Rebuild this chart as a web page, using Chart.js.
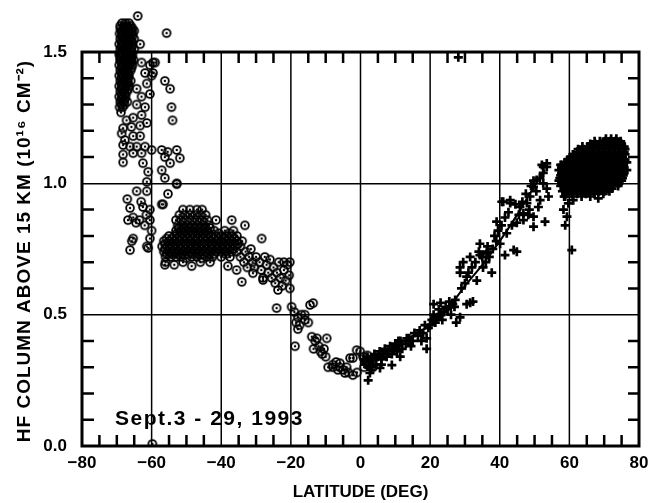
<!DOCTYPE html>
<html>
<head>
<meta charset="utf-8">
<script src="https://cdn.jsdelivr.net/npm/chart.js@4.4.1/dist/chart.umd.min.js"></script>
<style>
  html, body { margin: 0; padding: 0; background: #fff; }
  #wrap { width: 652px; height: 503px; }
</style>
</head>
<body>
<div id="wrap"><canvas id="chart" width="652" height="503"></canvas></div>
<script>
// [latitude, HF column]
const southPolar = [
  [-68.5,1.61],[-67.5,1.61],[-66.5,1.61],
  [-69,1.59],[-68,1.59],[-67,1.59],[-66,1.59],[-65.5,1.59],
  [-69.2,1.57],[-68.5,1.57],[-67.5,1.57],[-66.5,1.57],[-65.5,1.57],
  [-69,1.55],[-68,1.55],[-67,1.55],[-66,1.55],[-65,1.55],
  [-69.3,1.53],[-68.5,1.53],[-67.5,1.53],[-66.5,1.53],[-65.5,1.53],
  [-69,1.51],[-68,1.51],[-67,1.51],[-66,1.51],[-65,1.51],
  [-69.3,1.49],[-68.5,1.49],[-67.5,1.49],[-66.5,1.49],[-65.5,1.49],
  [-69,1.47],[-68,1.47],[-67,1.47],[-66,1.47],[-65.2,1.47],
  [-69.3,1.45],[-68.5,1.45],[-67.5,1.45],[-66.5,1.45],[-65.5,1.45],
  [-69,1.43],[-68,1.43],[-67,1.43],[-66,1.43],
  [-69.3,1.41],[-68.5,1.41],[-67.5,1.41],[-66.5,1.41],
  [-69,1.39],[-68,1.39],[-67,1.39],[-66,1.39],
  [-69.3,1.37],[-68.5,1.37],[-67.5,1.37],[-66.5,1.37],
  [-69,1.35],[-68,1.35],[-67,1.35],
  [-69.3,1.33],[-68.5,1.33],[-67.5,1.33],
  [-69,1.31],[-68,1.31],[-67,1.31],
  [-69.2,1.29],[-68.3,1.29],[-68.8,1.27],
  [-64,1.637],[-55.7,1.572],
  [-63.3,1.53],[-62.9,1.46],[-60.5,1.45],[-59.6,1.46],[-61.9,1.42],[-60,1.41],
  [-61.4,1.38],[-64.3,1.36],[-60.5,1.34],[-62.9,1.33],[-64.3,1.30],[-61.9,1.29],
  [-62.9,1.26],[-65.3,1.25],[-67.2,1.24],[-68.2,1.21],[-65.8,1.215],[-63.3,1.22],
  [-61.4,1.23],[-68.6,1.19],[-65.3,1.18],[-63.3,1.18],[-68.2,1.146],[-64.3,1.14],
  [-61.9,1.14],[-60,1.127],[-68.2,1.11],[-65.3,1.115],[-62.9,1.115],[-68.2,1.08],
  [-62.5,1.077],[-61,1.044],[-61.4,1.006],[-66.2,1.14],[-67.7,1.165],
  [-56.2,1.39],[-54.7,1.36],[-54.3,1.29],[-54,1.24],[-59,1.46],[-59.6,1.42],
  [-57.1,1.127],[-55.4,1.12],[-52.8,1.127],[-51.9,1.096],[-54.7,1.077],[-56.2,1.10],
  [-57.1,1.05],[-56.2,1.02],[-52.8,1.0]
];
const southPolarCore = [
  [-69,1.60],[-68,1.60],[-67,1.60],[-66,1.60],
  [-68.7,1.58],[-67.7,1.58],[-66.7,1.58],[-65.7,1.58],[-65,1.58],
  [-68.6,1.56],[-67.5,1.56],[-66.5,1.56],[-65.5,1.56],
  [-68.7,1.54],[-67.7,1.54],[-66.7,1.54],[-65.7,1.54],
  [-68.7,1.52],[-67.7,1.52],[-66.7,1.52],[-65.7,1.52],
  [-68.7,1.50],[-67.7,1.50],[-66.7,1.50],[-65.7,1.50],
  [-68.7,1.48],[-67.7,1.48],[-66.7,1.48],[-65.7,1.48],
  [-68.7,1.46],[-67.7,1.46],[-66.7,1.46],[-65.7,1.46],
  [-68.7,1.44],[-67.7,1.44],[-66.7,1.44],[-65.8,1.44],
  [-68.7,1.42],[-67.7,1.42],[-66.7,1.42],
  [-68.7,1.40],[-67.7,1.40],[-66.7,1.40],
  [-68.7,1.38],[-67.7,1.38],[-66.7,1.38],
  [-68.7,1.36],[-67.7,1.36],[-66.7,1.36],
  [-68.7,1.34],[-67.7,1.34],
  [-68.7,1.32],[-67.7,1.32],
  [-68.7,1.30],[-67.8,1.30]
];
const southMid = [
  [-67,0.94],[-64.3,0.97],[-61.4,0.97],[-66.8,0.86],[-65.3,0.87],[-62.5,0.91],
  [-60.5,0.86],[-56.7,0.92],[-55.3,0.96],[-65.7,0.78],[-61.4,0.76],[-60,0.82],
  [-66.2,0.906],[-65.3,0.79],[-66.2,0.746],[-61,0.754],[-57.1,0.92],[-63,0.93],
  [-61.5,0.88],[-63.5,0.86],[-60.5,0.90],[-60.5,0.79],[-62,0.84],[-64.5,0.85],
  [-51,0.90],[-49,0.90],[-47,0.90],[-45.5,0.90],
  [-52,0.88],[-50.5,0.88],[-49,0.88],[-47.5,0.88],[-46,0.88],[-44.5,0.88],
  [-53,0.86],[-51.5,0.86],[-50,0.86],[-48.5,0.86],[-47,0.86],[-45.5,0.86],[-44,0.86],[-41.5,0.86],[-37,0.86],
  [-52.5,0.84],[-51,0.84],[-49.5,0.84],[-48,0.84],[-46.5,0.84],[-45,0.84],[-43.5,0.84],[-33.2,0.84],
  [-53,0.82],[-51.5,0.82],[-50,0.82],[-48.5,0.82],[-47,0.82],[-45.5,0.82],[-44,0.82],[-42,0.82],[-39,0.82],[-36.5,0.82],
  [-55,0.80],[-53.5,0.80],[-52,0.80],[-50.5,0.80],[-49,0.80],[-47.5,0.80],[-46,0.80],[-44.5,0.80],
  [-43,0.80],[-41.5,0.80],[-40,0.80],[-38.5,0.80],[-37,0.80],[-35.5,0.80],
  [-56.5,0.78],[-55,0.78],[-53.5,0.78],[-52,0.78],[-50.5,0.78],[-49,0.78],[-47.5,0.78],[-46,0.78],
  [-44.5,0.78],[-43,0.78],[-41.5,0.78],[-40,0.78],[-38.5,0.78],[-37,0.78],[-35.5,0.78],[-34,0.78],
  [-57,0.76],[-55.5,0.76],[-54,0.76],[-52.5,0.76],[-51,0.76],[-49.5,0.76],[-48,0.76],[-46.5,0.76],
  [-45,0.76],[-43.5,0.76],[-42,0.76],[-40.5,0.76],[-39,0.76],[-37.5,0.76],[-36,0.76],[-34.5,0.76],
  [-56.5,0.74],[-55,0.74],[-53.5,0.74],[-52,0.74],[-50.5,0.74],[-49,0.74],[-47.5,0.74],[-46,0.74],
  [-44.5,0.74],[-43,0.74],[-41.5,0.74],[-40,0.74],[-38.5,0.74],[-37,0.74],[-35.5,0.74],
  [-56,0.72],[-54.5,0.72],[-53,0.72],[-51.5,0.72],[-50,0.715],[-48.5,0.72],[-47,0.72],[-45.5,0.715],
  [-44,0.72],[-42.5,0.72],[-40,0.72],[-37.5,0.72],
  [-56,0.70],[-53.5,0.69],[-51,0.70],[-48.5,0.685],[-46,0.70],[-43.2,0.70],[-38.1,0.685],
  [-35.6,0.67],[-56.2,0.69],[-34.1,0.625],[-28.4,0.79],[-52.8,0.997]
];
const southMidCore = [
  [-52.2,0.83],[-50.7,0.83],[-49.2,0.83],[-47.7,0.83],[-46.2,0.83],[-44.7,0.83],[-43.2,0.83],
  [-52.7,0.81],[-51.2,0.81],[-49.7,0.81],[-48.2,0.81],[-46.7,0.81],[-45.2,0.81],[-43.7,0.81],[-40.7,0.81],[-37.7,0.81],
  [-55.7,0.79],[-54.2,0.79],[-52.7,0.79],[-51.2,0.79],[-49.7,0.79],[-48.2,0.79],[-46.7,0.79],
  [-45.2,0.79],[-43.7,0.79],[-42.2,0.79],[-40.7,0.79],[-39.2,0.79],[-37.7,0.79],[-36.2,0.79],
  [-56.2,0.77],[-54.7,0.77],[-53.2,0.77],[-51.7,0.77],[-50.2,0.77],[-48.7,0.77],[-47.2,0.77],
  [-45.7,0.77],[-44.2,0.77],[-42.7,0.77],[-41.2,0.77],[-39.7,0.77],[-38.2,0.77],[-36.7,0.77],[-35.2,0.77],
  [-56.2,0.75],[-54.7,0.75],[-53.2,0.75],[-51.7,0.75],[-50.2,0.75],[-48.7,0.75],[-47.2,0.75],
  [-45.7,0.75],[-44.2,0.75],[-42.7,0.75],[-41.2,0.75],[-39.7,0.75],[-38.2,0.75],[-36.7,0.75],
  [-55.7,0.73],[-54.2,0.73],[-52.7,0.73],[-51.2,0.73],[-49.7,0.73],[-48.2,0.73],[-46.7,0.73],
  [-45.2,0.73],[-43.7,0.73],[-42.2,0.73],[-38.7,0.73]
];
const southSub = [
  [-33,0.74],[-32,0.72],[-31,0.70],[-30.5,0.68],[-31.5,0.75],[-30,0.72],[-29,0.70],
  [-28.5,0.67],[-28,0.64],[-27,0.69],[-26.5,0.66],[-26,0.71],[-25.5,0.64],[-25,0.68],
  [-24.5,0.62],[-24,0.66],[-23.5,0.70],[-23,0.64],[-22.5,0.61],[-22,0.67],[-21.5,0.63],
  [-21,0.69],[-20.5,0.65],[-20.3,0.60],[-20.3,0.70],[-23.7,0.594],[-33.5,0.70],
  [-32.5,0.68],[-34.5,0.72],[-27.5,0.72],[-22,0.70],[-30.9,0.658],[-28,0.632],
  [-24.1,0.525],[-19.8,0.53],[-14.5,0.537],[-13.6,0.544],[-19,0.51],[-18,0.49],
  [-17,0.50],[-16,0.48],[-15,0.47],[-18.5,0.47],[-17.5,0.46],[-16,0.50],[-18,0.445],
  [-18.8,0.38],[-59.8,0.008]
];
const southTropic = [
  [-13,0.40],[-12,0.38],[-11.5,0.36],[-11,0.35],[-10.5,0.37],[-9.7,0.41],[-12.5,0.41],
  [-10,0.34],[-9.3,0.30],[-8,0.31],[-7.9,0.30],[-6.5,0.29],[-5.9,0.315],[-5,0.29],
  [-4.5,0.278],[-3.5,0.28],[-2.2,0.27],[-3,0.335],[-2.2,0.335],[-1.1,0.365],[-0.1,0.36],
  [0.7,0.34],[1.5,0.32],[2.5,0.31],[3.6,0.30],[1,0.30],[2,0.345],[3,0.33],
  [-7,0.32],[-6,0.30],[-1,0.28],[-4,0.30],[-14,0.416],[-13.5,0.37]
];
const northTropic = [
  [1,0.33],[1.5,0.31],[2,0.34],[2.5,0.32],[3,0.30],[3.5,0.33],[4,0.35],[4.5,0.31],
  [5,0.34],[5.5,0.36],[6,0.33],[6.5,0.35],[7,0.37],[7.5,0.34],[8,0.36],[8.5,0.38],
  [9,0.35],[9.5,0.37],[10,0.39],[10.5,0.36],[11,0.38],[11.5,0.40],[12,0.37],
  [2.2,0.25],[2.7,0.278],[5.6,0.297],[9,0.308],[3,0.29],[6,0.31],
  [10.9,0.40],[13.3,0.41],[11.4,0.34],
  [13,0.39],[14,0.41],[15,0.40],[15.5,0.43],[16.5,0.42],[17,0.44],[18,0.43],
  [18.5,0.46],[19,0.37],[19.5,0.45],[14.5,0.38],[17.5,0.40],[19,0.41]
];
const northMid = [
  [20,0.46],[20.5,0.48],[21,0.50],[21.5,0.47],[22,0.49],[22.5,0.52],[23,0.50],
  [23.5,0.48],[24,0.51],[24.5,0.53],[25,0.52],[25.5,0.55],[26,0.50],[26.5,0.54],
  [27,0.53],[27.5,0.47],[21,0.54],[23,0.545],[31.5,0.545],[30.5,0.54],[27.2,0.556],
  [28.6,0.49],[32.3,0.55],
  [28.6,0.68],[29.5,0.70],[31.5,0.72],[34.3,0.727],[36.3,0.74],[37.7,0.66],
  [30.5,0.645],[33.4,0.63],[28.6,0.66],[35.2,0.68],
  [38,0.75],[39,0.78],[37,0.72],[36,0.70],[35,0.72],[34,0.74],[33,0.70],[32,0.68],
  [31,0.66],[30,0.62],[29,0.60],[36.5,0.76],[38.5,0.80],[39.5,0.82],[40.5,0.84],
  [41.5,0.87],[42.5,0.89],[43.5,0.84],[44.5,0.92],[45.5,0.88],[46.5,0.93],[47.5,0.96],
  [48.5,0.90],[50.5,0.97],[51.5,1.02],[52.5,1.04],[53.5,0.98],[49,0.99],
  [39.1,0.854],[41,0.93],[43,0.925],[44,0.746],[41.5,0.727],[40.1,0.77],[42,0.81],
  [44.9,0.85],[46.8,0.886],[47.8,0.925],[49.7,0.873],[45.8,0.91],[48.7,0.95],[49.7,1.01],
  [52.1,1.07],[53.5,1.063],[50.6,1.013],[49.7,0.987],[52.5,1.0],
  [40.6,0.93],[43,0.936],[48.2,0.88],[51.1,0.91],[53,0.854],[49.7,0.835],[46.8,0.86],
  [51.6,0.936],[54,0.95],[44.9,0.74],[34.3,0.77],[36.3,0.733],
  [28.1,1.48]
];
const northPolar = [
  [70.5,1.17],[72,1.17],[73.5,1.17],
  [66,1.15],[67.5,1.15],[69,1.15],[70.5,1.15],[72,1.15],[73.5,1.15],[75,1.15],
  [62.5,1.13],[64,1.13],[65.5,1.13],[67,1.13],[68.5,1.13],[70,1.13],[71.5,1.13],[73,1.13],[74.5,1.13],[76,1.13],
  [61,1.11],[62.5,1.11],[64,1.11],[65.5,1.11],[67,1.11],[68.5,1.11],[70,1.11],[71.5,1.11],[73,1.11],[74.5,1.11],[76,1.11],
  [59.5,1.09],[61,1.09],[62.5,1.09],[64,1.09],[65.5,1.09],[67,1.09],[68.5,1.09],[70,1.09],[71.5,1.09],[73,1.09],[74.5,1.09],[76,1.09],
  [57.5,1.07],[59,1.07],[60.5,1.07],[62,1.07],[63.5,1.07],[65,1.07],[66.5,1.07],[68,1.07],[69.5,1.07],[71,1.07],[72.5,1.07],[74,1.07],[75.5,1.07],
  [57,1.05],[58.5,1.05],[60,1.05],[61.5,1.05],[63,1.05],[64.5,1.05],[66,1.05],[67.5,1.05],[69,1.05],[70.5,1.05],[72,1.05],[73.5,1.05],[75,1.05],[76.5,1.05],
  [57.5,1.03],[59,1.03],[60.5,1.03],[62,1.03],[63.5,1.03],[65,1.03],[66.5,1.03],[68,1.03],[69.5,1.03],[71,1.03],[72.5,1.03],[74,1.03],[75.5,1.03],
  [57,1.01],[58.5,1.01],[60,1.01],[61.5,1.01],[63,1.01],[64.5,1.01],[66,1.01],[67.5,1.01],[69,1.01],[70.5,1.01],[72,1.01],[73.5,1.01],[75,1.01],
  [57.5,0.99],[59,0.99],[60.5,0.99],[62,0.99],[63.5,0.99],[65,0.99],[66.5,0.99],[68,0.99],[69.5,0.99],[71,0.99],[72.5,0.99],[74,0.99],
  [58,0.97],[59.5,0.97],[61,0.97],[62.5,0.97],[64,0.97],[65.5,0.97],[67,0.97],[68.5,0.97],[70,0.97],[71.5,0.97],
  [58.5,0.95],[61,0.95],[63.5,0.95],[66,0.95],[68.3,0.943],
  [58.8,0.95],[59.7,0.924],[58.3,0.90],[59.3,0.873],[58.8,0.84],[61.1,0.936],
  [52.5,1.063],[53.5,1.076],[57.8,1.07],[60.7,0.746]
];
const northPolarCore = [
  [67.25,1.16],[68.75,1.16],[70.25,1.16],[71.75,1.16],[73.25,1.16],[74.75,1.16],
  [63.75,1.14],[65.25,1.14],[66.75,1.14],[68.25,1.14],[69.75,1.14],[71.25,1.14],[72.75,1.14],[74.25,1.14],[75.75,1.14],
  [62.25,1.12],[63.75,1.12],[65.25,1.12],[66.75,1.12],[68.25,1.12],[69.75,1.12],[71.25,1.12],[72.75,1.12],[74.25,1.12],[75.75,1.12],
  [60.25,1.10],[61.75,1.10],[63.25,1.10],[64.75,1.10],[66.25,1.10],[67.75,1.10],[69.25,1.10],[70.75,1.10],[72.25,1.10],[73.75,1.10],[75.25,1.10],
  [58.75,1.08],[60.25,1.08],[61.75,1.08],[63.25,1.08],[64.75,1.08],[66.25,1.08],[67.75,1.08],[69.25,1.08],[70.75,1.08],[72.25,1.08],[73.75,1.08],[75.25,1.08],[76.5,1.08],
  [57.75,1.06],[59.25,1.06],[60.75,1.06],[62.25,1.06],[63.75,1.06],[65.25,1.06],[66.75,1.06],[68.25,1.06],[69.75,1.06],[71.25,1.06],[72.75,1.06],[74.25,1.06],[75.75,1.06],
  [57.75,1.04],[59.25,1.04],[60.75,1.04],[62.25,1.04],[63.75,1.04],[65.25,1.04],[66.75,1.04],[68.25,1.04],[69.75,1.04],[71.25,1.04],[72.75,1.04],[74.25,1.04],[75.75,1.04],
  [57.25,1.02],[58.75,1.02],[60.25,1.02],[61.75,1.02],[63.25,1.02],[64.75,1.02],[66.25,1.02],[67.75,1.02],[69.25,1.02],[70.75,1.02],[72.25,1.02],[73.75,1.02],[75.25,1.02],
  [57.75,1.00],[59.25,1.00],[60.75,1.00],[62.25,1.00],[63.75,1.00],[65.25,1.00],[66.75,1.00],[68.25,1.00],[69.75,1.00],[71.25,1.00],[72.75,1.00],[74.25,1.00],
  [58.75,0.98],[60.25,0.98],[61.75,0.98],[63.25,0.98],[64.75,0.98],[66.25,0.98],[67.75,0.98],[69.25,0.98],[70.75,0.98],[72.25,0.98],
  [59.25,0.96],[60.75,0.96],[62.25,0.96],[64.75,0.96],[67.25,0.96],[69.75,0.96]
];
const fitLat = [0, 5, 10, 15, 20, 25, 30, 35, 40, 45, 50, 53];
const fitVal = [0.32, 0.345, 0.38, 0.42, 0.46, 0.52, 0.61, 0.69, 0.78, 0.88, 0.99, 1.05];

const xTicks = [-80, -60, -40, -20, 0, 20, 40, 60, 80];
const yTicks = [0.0, 0.5, 1.0, 1.5];
const yTop = 1.5;          // top of the frame
const yRoom = 1.66;        // room above the frame for the points that stick out
const yTitle = 'HF COLUMN ABOVE 15 KM (10\u00B9\u2076 CM\u207B\u00B2)';
const noteText = 'Sept.3 - 29, 1993';

const toXY = arr => arr.map(p => ({ x: p[0], y: p[1] }));
const southPts = [].concat(southPolar, southPolarCore, southMid, southMidCore, southSub, southTropic);
const northPts = [].concat(northTropic, northMid, northPolar, northPolarCore);

// circle with a dot in the middle
const ringDot = document.createElement('canvas');
ringDot.width = 12; ringDot.height = 12;
(function () {
  const c = ringDot.getContext('2d');
  c.strokeStyle = '#000';
  c.lineWidth = 1.8;
  c.beginPath(); c.arc(6, 6, 3.9, 0, Math.PI * 2); c.stroke();
  c.fillStyle = '#000';
  c.beginPath(); c.arc(6, 6, 1.2, 0, Math.PI * 2); c.fill();
})();

// no extra room for the end labels, the frame is placed by hand
const noPad = s => { s.paddingTop = 0; s.paddingBottom = 0; s.paddingLeft = 0; s.paddingRight = 0; };

const framePlugin = {
  id: 'frame',
  beforeDatasetsDraw(chart) {
    const { ctx, scales } = chart;
    const x = scales.x, y = scales.y;
    const L = x.getPixelForValue(-80), R = x.getPixelForValue(80);
    const T = y.getPixelForValue(yTop), B = y.getPixelForValue(0);
    ctx.save();
    ctx.strokeStyle = '#000';
    // vertical grid lines
    ctx.lineWidth = 1.5;
    xTicks.forEach(v => {
      const px = x.getPixelForValue(v);
      ctx.beginPath(); ctx.moveTo(px, T); ctx.lineTo(px, B); ctx.stroke();
    });
    // inward minor ticks
    ctx.lineWidth = 2.5;
    for (let v = -75; v <= 75; v += 5) {
      if (v % 20 === 0) continue;
      const px = x.getPixelForValue(v);
      ctx.beginPath();
      ctx.moveTo(px, T); ctx.lineTo(px, T + 11);
      ctx.moveTo(px, B); ctx.lineTo(px, B - 11);
      ctx.stroke();
    }
    for (let i = 1; i < 15; i++) {
      if (i % 5 === 0) continue;
      const py = y.getPixelForValue(i / 10);
      ctx.beginPath();
      ctx.moveTo(L, py); ctx.lineTo(L + 12, py);
      ctx.moveTo(R, py); ctx.lineTo(R - 11, py);
      ctx.stroke();
    }
    ctx.lineWidth = 3;
    ctx.strokeRect(L, T, R - L, B - T);

    ctx.fillStyle = '#000';
    ctx.font = 'bold 21px "Liberation Sans"';
    ctx.letterSpacing = '1.5px';
    ctx.textAlign = 'left';
    ctx.textBaseline = 'alphabetic';
    ctx.fillText(noteText, 115, 425);

    ctx.font = 'bold 19px "Liberation Sans"';
    ctx.letterSpacing = '1px';
    ctx.textAlign = 'center';
    ctx.textBaseline = 'middle';
    ctx.translate(25, (T + B) / 2 + 2);
    ctx.rotate(-Math.PI / 2);
    ctx.fillText(yTitle, 0, 0);
    ctx.restore();
  }
};

Chart.defaults.font.family = '"Liberation Sans", Arial, sans-serif';
Chart.defaults.font.weight = 'bold';
Chart.defaults.color = '#000';

new Chart(document.getElementById('chart'), {
  type: 'scatter',
  data: {
    datasets: [
      {
        data: toXY(southPts),
        pointStyle: ringDot,
        pointRadius: 5
      },
      {
        data: toXY(northPts),
        pointStyle: 'cross',
        pointRadius: 4.5,
        borderColor: '#000',
        borderWidth: 2.7
      },
      {
        type: 'line',
        data: fitLat.map((v, i) => ({ x: v, y: fitVal[i] })),
        borderColor: '#000',
        borderWidth: 2,
        pointRadius: 0,
        tension: 0.3,
        fill: false
      }
    ]
  },
  options: {
    responsive: false,
    animation: false,
    events: [],
    layout: { padding: { left: 0, right: 13, top: 10, bottom: 0 } },
    plugins: { legend: { display: false }, tooltip: { enabled: false } },
    scales: {
      x: {
        type: 'linear',
        min: -80, max: 80,
        afterBuildTicks: s => { s.ticks = xTicks.map(v => ({ value: v })); },
        afterFit: s => { s.height = 57; noPad(s); },
        grid: { display: false, drawTicks: false },
        border: { display: false },
        ticks: {
          padding: 7,
          font: { size: 17, weight: 'bold' },
          callback: v => (v < 0 ? '\u2212' + Math.abs(v) : String(v))
        },
        title: {
          display: true,
          text: 'LATITUDE (DEG)',
          font: { size: 17, weight: 'bold' },
          padding: { top: 0, bottom: 0 }
        }
      },
      y: {
        min: 0, max: yRoom,
        afterBuildTicks: s => { s.ticks = yTicks.map(v => ({ value: v })); },
        afterFit: s => { s.width = 82; noPad(s); },
        grid: { color: '#000', lineWidth: 1.5, drawTicks: false },
        border: { display: false },
        ticks: {
          padding: 15,
          font: { size: 17, weight: 'bold' },
          callback: v => Number(v).toFixed(1)
        }
      }
    }
  },
  plugins: [framePlugin]
});
</script>
</body>
</html>
